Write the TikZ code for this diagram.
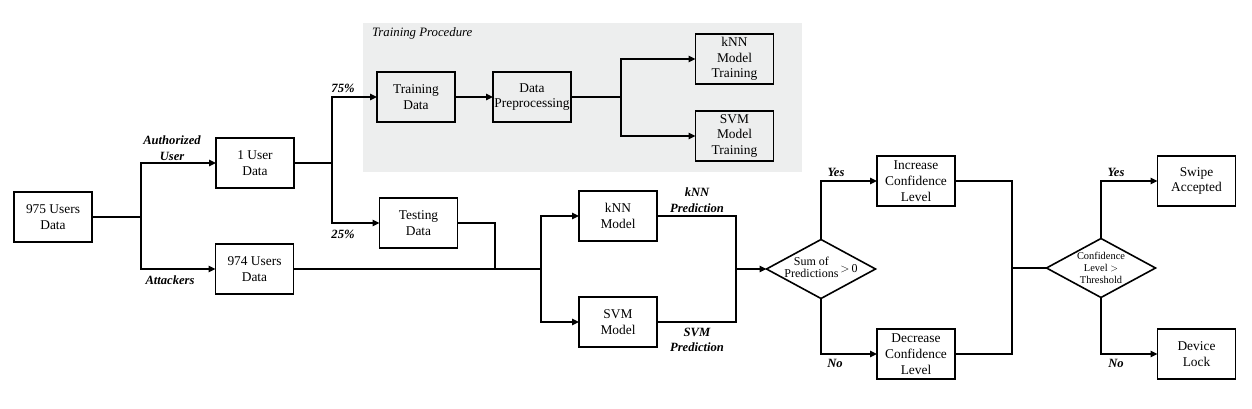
\documentclass[tikz,border=0pt]{standalone}
\usepackage{fontspec}
\setmainfont{Liberation Serif}
\usetikzlibrary{arrows.meta,shapes.geometric}
\definecolor{bggray}{RGB}{237,238,238}
\begin{document}
\begin{tikzpicture}[x=1pt,y=-1pt,
  every node/.style={inner sep=0pt,outer sep=0pt},
  line/.style={line width=1.5pt,draw=black},
  arr/.style={line width=1.5pt,draw=black,-{Triangle[length=7pt,width=6.5pt]}},
  boxnode/.style={draw,line width=1.6pt,minimum width=78pt,minimum height=50pt,align=center,
    font=\fontsize{13.4}{15.7}\selectfont},
  lbl/.style={align=center,font=\fontsize{12.6}{15.5}\selectfont\bfseries\itshape},
  dia/.style={draw,diamond,line width=1.6pt,minimum width=109pt,minimum height=59pt},
  diatext/.style={align=center}
]
\useasboundingbox (0,0) rectangle (1252,409);
% training procedure background
\fill[bggray] (363,23) rectangle (802,172);
\node[anchor=west,font=\fontsize{12.8}{15}\selectfont\itshape] (tp) at (372,33) {Training Procedure};

% boxes
\node[boxnode] (all) at (53,217) {975 Users\\Data};
\node[boxnode] (one) at (255,163) {1 User\\Data};
\node[boxnode] (att) at (254.5,269) {974 Users\\Data};
\node[boxnode] (train) at (416,97) {Training\\Data};
\node[boxnode] (test) at (418.5,223) {Testing\\Data};
\node[boxnode] (prep) at (532,97) {Data\\Preprocessing};
\node[boxnode] (knnT) at (734.5,59) {kNN\\Model\\Training};
\node[boxnode] (svmT) at (734.5,136) {SVM\\Model\\Training};
\node[boxnode] (knnM) at (618,216) {kNN\\Model};
\node[boxnode] (svmM) at (618,322) {SVM\\Model};
\node[boxnode] (inc) at (916,181) {Increase\\Confidence\\Level};
\node[boxnode] (dec) at (916,354) {Decrease\\Confidence\\Level};
\node[boxnode] (swipe) at (1196.5,181) {Swipe\\Accepted};
\node[boxnode] (lock) at (1196.5,354) {Device\\Lock};

% diamonds
\node[dia,label={[diatext,font=\fontsize{12}{12.6}\selectfont]center:{\begin{tabular}{@{}c@{}}Sum of\\Predictions\end{tabular}\,$>$\,0}}] (d1) at (821,269) {};
\node[dia,label={[diatext,font=\fontsize{10.4}{12}\selectfont]center:{Confidence\\Level $>$\\Threshold}}] (d2) at (1101,268) {};

% junction coordinates
\coordinate (s1) at (141,217);
\coordinate (s2) at (332,163);
\coordinate (s3) at (621,97);
\coordinate (j1) at (495,269);
\coordinate (s4) at (541,269);
\coordinate (j2) at (736,269);
\coordinate (j3) at (1012,268);

% connectors
\draw[line] (all.east) -- (s1);
\draw[arr] (s1) |- (one.west);
\draw[arr] (s1) |- (att.west);
\draw[line] (one.east) -- (s2);
\draw[arr] (s2) |- (train.west);
\draw[arr] (s2) |- (test.west);
\draw[arr] (train.east) -- (prep.west);
\draw[line] (prep.east) -- (s3);
\draw[arr] (s3) |- (knnT.west);
\draw[arr] (s3) |- (svmT.west);
\draw[line] (test.east) -| (j1);
\draw[line] (att.east) -- (s4);
\draw[arr] (s4) |- (knnM.west);
\draw[arr] (s4) |- (svmM.west);
\draw[line] (knnM.east) -| (j2);
\draw[line] (svmM.east) -| (j2);
\draw[arr] (j2) -- (d1.west);
\draw[arr] (d1.north) |- (inc.west);
\draw[arr] (d1.south) |- (dec.west);
\draw[line] (inc.east) -| (j3);
\draw[line] (dec.east) -| (j3);
\draw[line] (j3) -- (d2.west);
\draw[arr] (d2.north) |- (swipe.west);
\draw[arr] (d2.south) |- (lock.west);

% labels
\node[lbl] (lauth) at (172,148) {Authorized\\User};
\node[lbl] (latt) at (170,280) {Attackers};
\node[lbl] (l75) at (343,88) {75\%};
\node[lbl] (l25) at (343,234) {25\%};
\node[lbl] (lknn) at (697,200) {kNN\\Prediction};
\node[lbl] (lsvm) at (697,340) {SVM\\Prediction};
\node[lbl] (ly1) at (836,172) {Yes};
\node[lbl] (ln1) at (835,363) {No};
\node[lbl] (ly2) at (1116,172) {Yes};
\node[lbl] (ln2) at (1116,363) {No};
\end{tikzpicture}
\end{document}
